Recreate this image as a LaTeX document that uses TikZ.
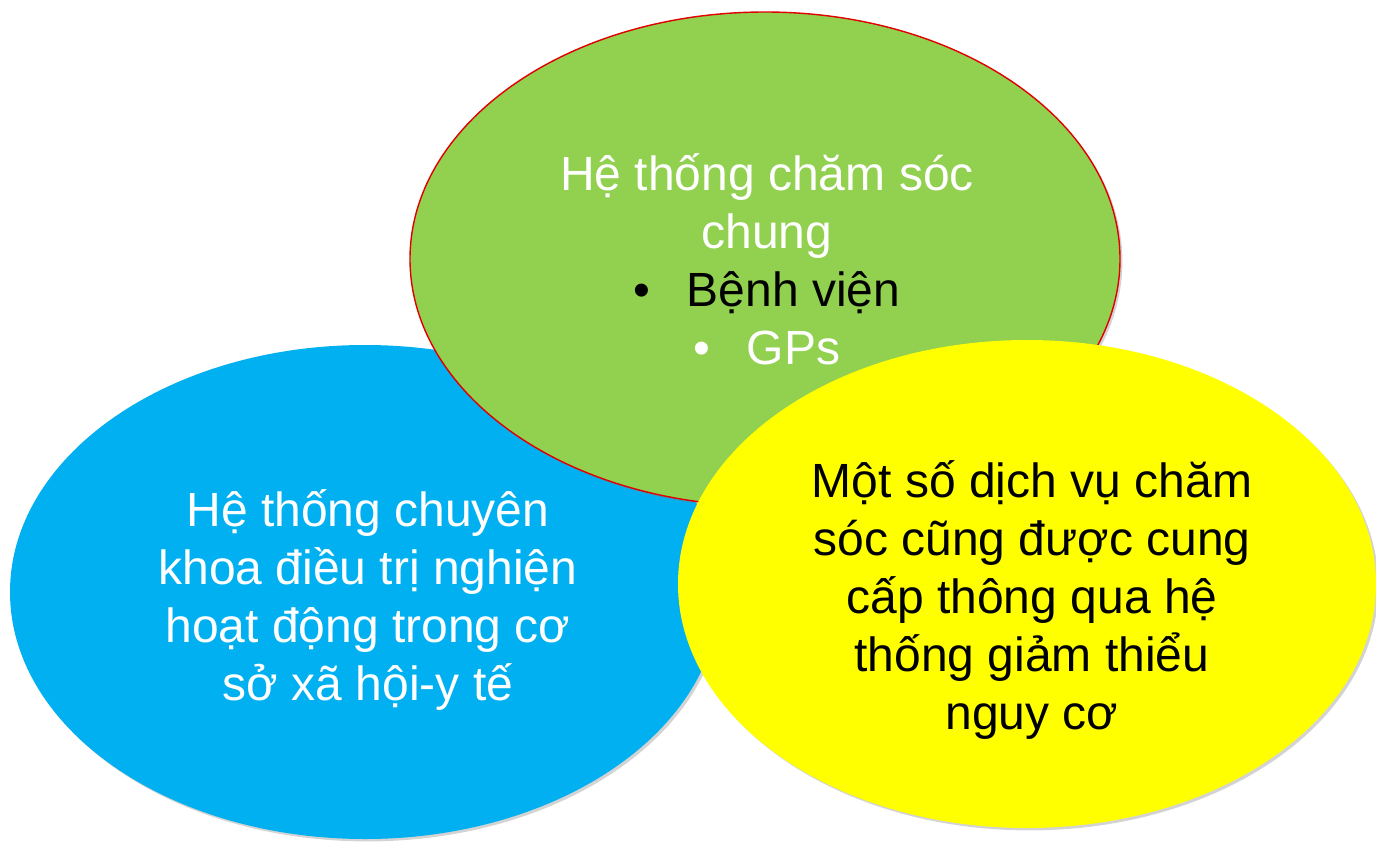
\documentclass[tikz,border=0pt]{standalone}
\usepackage{fontspec}
\setmainfont{Liberation Sans}
\usetikzlibrary{shapes.geometric,shadows}
\definecolor{cgreen}{HTML}{92D050}
\definecolor{cblue}{HTML}{00B0F0}
\definecolor{cyellow}{HTML}{FFFF00}
\definecolor{cred}{HTML}{E00000}
\tikzset{
  blob/.style={ellipse, inner sep=0pt, minimum width=710pt*0.5, minimum height=494pt*0.5,
    drop shadow={opacity=0.35, shadow xshift=1.2pt, shadow yshift=-1.2pt}},
  lbl/.style={align=center, font=\fontsize{24}{29}\selectfont, inner sep=0pt}
}
\begin{document}
\begin{tikzpicture}[x=0.5pt,y=-0.5pt]
\useasboundingbox (0,0) rectangle (1376,846);
\node[blob, fill=cblue] (blue) at (365,592) {};
\node[blob, fill=cgreen, draw=cred, line width=0.7pt] (green) at (765,259) {};
\node[blob, fill=cyellow, minimum width=698pt*0.5, minimum height=488pt*0.5] (yellow) at (1027,584) {};
\node[lbl, text=white, anchor=base] (gt) at (767,364) {Hệ thống chăm sóc\\chung\\{\color{black}•\hspace{0.75em}Bệnh viện}\\•\hspace{0.75em}GPs};
\node[lbl, text=white, anchor=base] (bt) at (368,700) {Hệ thống chuyên\\khoa điều trị nghiện\\hoạt động trong cơ\\sở xã hội-y tế};
\node[lbl, text=black, anchor=base] (yt) at (1032,729) {Một số dịch vụ chăm\\sóc cũng được cung\\cấp thông qua hệ\\thống giảm thiểu\\nguy cơ};
\end{tikzpicture}
\end{document}
